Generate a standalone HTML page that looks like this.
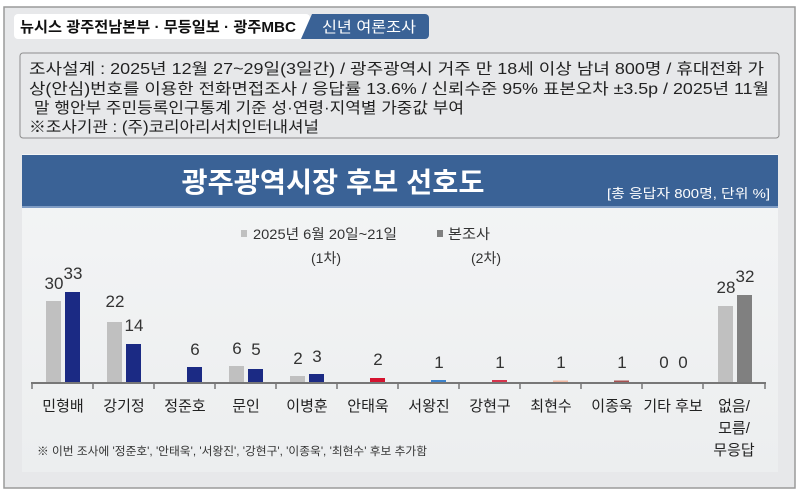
<!DOCTYPE html>
<html><head><meta charset="utf-8"><style>
body{margin:0;width:800px;height:496px;background:#fff;overflow:hidden;font-family:"Liberation Sans","Noto Sans CJK KR",sans-serif;}
</style></head><body>
<svg width="800" height="496" xmlns="http://www.w3.org/2000/svg" font-family="'Liberation Sans','Noto Sans CJK KR',sans-serif">
<defs>
<linearGradient id="pg" x1="0" y1="0" x2="0" y2="1"><stop offset="0" stop-color="#f4f5f6"/><stop offset="1" stop-color="#eceeef"/></linearGradient>
</defs>
<rect x="4" y="7" width="791" height="481" fill="#e7e8ea" stroke="#9a9a9a" stroke-width="1.5"/>
<rect x="14" y="14" width="296" height="25" rx="4" fill="#fff"/>
<text x="20" y="32" font-size="15" font-weight="bold" fill="#111" textLength="276" lengthAdjust="spacingAndGlyphs">뉴시스  광주전남본부 · 무등일보 · 광주MBC</text>
<path d="M312 14 H425 a4 4 0 0 1 4 4 V35 a4 4 0 0 1 -4 4 H301 Z" fill="#3a6296"/>
<text x="322" y="32" font-size="15" fill="#fff" textLength="94" lengthAdjust="spacingAndGlyphs">신년  여론조사</text>
<rect x="20" y="53" width="759" height="85" rx="3" fill="#e7e8ea" stroke="#8d8d8d"/>
<g font-size="15.5" fill="#222">
<text x="29" y="74" textLength="735" lengthAdjust="spacingAndGlyphs">조사설계 : 2025년 12월 27~29일(3일간) / 광주광역시 거주 만 18세 이상 남녀 800명 / 휴대전화 가</text>
<text x="29" y="94" textLength="740" lengthAdjust="spacingAndGlyphs">상(안심)번호를 이용한 전화면접조사 / 응답률 13.6% / 신뢰수준 95% 표본오차 ±3.5p / 2025년 11월</text>
<text x="34" y="113" textLength="430" lengthAdjust="spacingAndGlyphs">말 행안부 주민등록인구통계 기준 성·연령·지역별 가중값 부여</text>
<text x="29" y="132" textLength="290" lengthAdjust="spacingAndGlyphs">※조사기관 : (주)코리아리서치인터내셔널</text>
</g>
<rect x="22" y="154" width="756" height="318" fill="url(#pg)"/>
<rect x="22" y="155" width="756" height="51" fill="#3a6296"/>
<rect x="22" y="206" width="756" height="2" fill="#7f9cc4"/>
<text x="333" y="192" font-size="28" font-weight="bold" fill="#fff" text-anchor="middle" textLength="303" lengthAdjust="spacingAndGlyphs">광주광역시장 후보 선호도</text>
<text x="770" y="198" font-size="13" fill="#fff" text-anchor="end" textLength="163" lengthAdjust="spacingAndGlyphs">[총 응답자 800명, 단위 %]</text>
<rect x="241" y="230" width="6" height="7" fill="#c0c0c0"/>
<text x="253" y="239" font-size="14" fill="#333" textLength="144" lengthAdjust="spacingAndGlyphs">2025년 6월 20일~21일</text>
<text x="326" y="263" font-size="14" fill="#333" text-anchor="middle">(1차)</text>
<rect x="437" y="230" width="6" height="7" fill="#808080"/>
<text x="448" y="239" font-size="14" fill="#333" textLength="42" lengthAdjust="spacingAndGlyphs">본조사</text>
<text x="486" y="263" font-size="14" fill="#333" text-anchor="middle">(2차)</text>
<!-- axis -->
<line x1="31" y1="383" x2="766" y2="383" stroke="#777" stroke-width="2"/>
<g stroke="#777" stroke-width="1.5">
<line x1="32" y1="383" x2="32" y2="389"/><line x1="93" y1="383" x2="93" y2="389"/><line x1="154" y1="383" x2="154" y2="389"/><line x1="215" y1="383" x2="215" y2="389"/><line x1="276" y1="383" x2="276" y2="389"/><line x1="337" y1="383" x2="337" y2="389"/><line x1="398" y1="383" x2="398" y2="389"/><line x1="459" y1="383" x2="459" y2="389"/><line x1="520" y1="383" x2="520" y2="389"/><line x1="581" y1="383" x2="581" y2="389"/><line x1="642" y1="383" x2="642" y2="389"/><line x1="703" y1="383" x2="703" y2="389"/><line x1="765" y1="383" x2="765" y2="389"/>
</g>
<!-- bars -->
<rect x="46" y="301" width="15" height="81" fill="#c0c0c0"/><rect x="65" y="292" width="15" height="90" fill="#1b2a84"/>
<rect x="107" y="322" width="15" height="60" fill="#c0c0c0"/><rect x="126" y="344" width="15" height="38" fill="#1b2a84"/>
<rect x="187" y="367" width="15" height="15" fill="#1b2a84"/>
<rect x="229" y="366" width="15" height="16" fill="#c0c0c0"/><rect x="248" y="369" width="15" height="13" fill="#1b2a84"/>
<rect x="290" y="376" width="15" height="6" fill="#c0c0c0"/><rect x="309" y="374" width="15" height="8" fill="#1b2a84"/>
<rect x="370" y="378" width="15" height="4" fill="#d5132f"/>
<rect x="431" y="380" width="15" height="2" fill="#3d83cc"/>
<rect x="492" y="380" width="15" height="2" fill="#d6344c"/>
<rect x="553" y="380.5" width="15" height="1.5" fill="#f2b9a3"/>
<rect x="614" y="380.5" width="15" height="1.5" fill="#a55050"/>
<rect x="718" y="306" width="15" height="76" fill="#c0c0c0"/><rect x="737" y="295" width="15" height="87" fill="#808080"/>
<!-- values -->
<g font-size="17" fill="#333" text-anchor="middle">
<text x="54" y="289">30</text><text x="73" y="279">33</text>
<text x="115" y="307">22</text><text x="134" y="331">14</text>
<text x="195" y="355">6</text>
<text x="237" y="354">6</text><text x="256" y="355">5</text>
<text x="298" y="364">2</text><text x="317" y="362">3</text>
<text x="378" y="365">2</text>
<text x="439" y="368">1</text>
<text x="500" y="368">1</text>
<text x="561" y="368">1</text>
<text x="622" y="368">1</text>
<text x="664" y="368">0</text><text x="683" y="368">0</text>
<text x="726" y="293">28</text><text x="745" y="282">32</text>
</g>
<!-- categories -->
<g font-size="15" fill="#222" text-anchor="middle">
<text x="63" y="411">민형배</text><text x="124" y="411">강기정</text><text x="185" y="411">정준호</text><text x="246" y="411">문인</text><text x="307" y="411">이병훈</text><text x="368" y="411">안태욱</text><text x="429" y="411">서왕진</text><text x="490" y="411">강현구</text><text x="551" y="411">최현수</text><text x="612" y="411">이종욱</text><text x="673" y="411">기타 후보</text>
<text x="734" y="411">없음/</text><text x="734" y="433">모름/</text><text x="734" y="455">무응답</text>
</g>
<text x="37" y="455" font-size="11.5" fill="#333" textLength="390" lengthAdjust="spacingAndGlyphs">※ 이번 조사에 '정준호', '안태욱', '서왕진', '강현구', '이종욱', '최현수' 후보 추가함</text>
</svg>
</body></html>
